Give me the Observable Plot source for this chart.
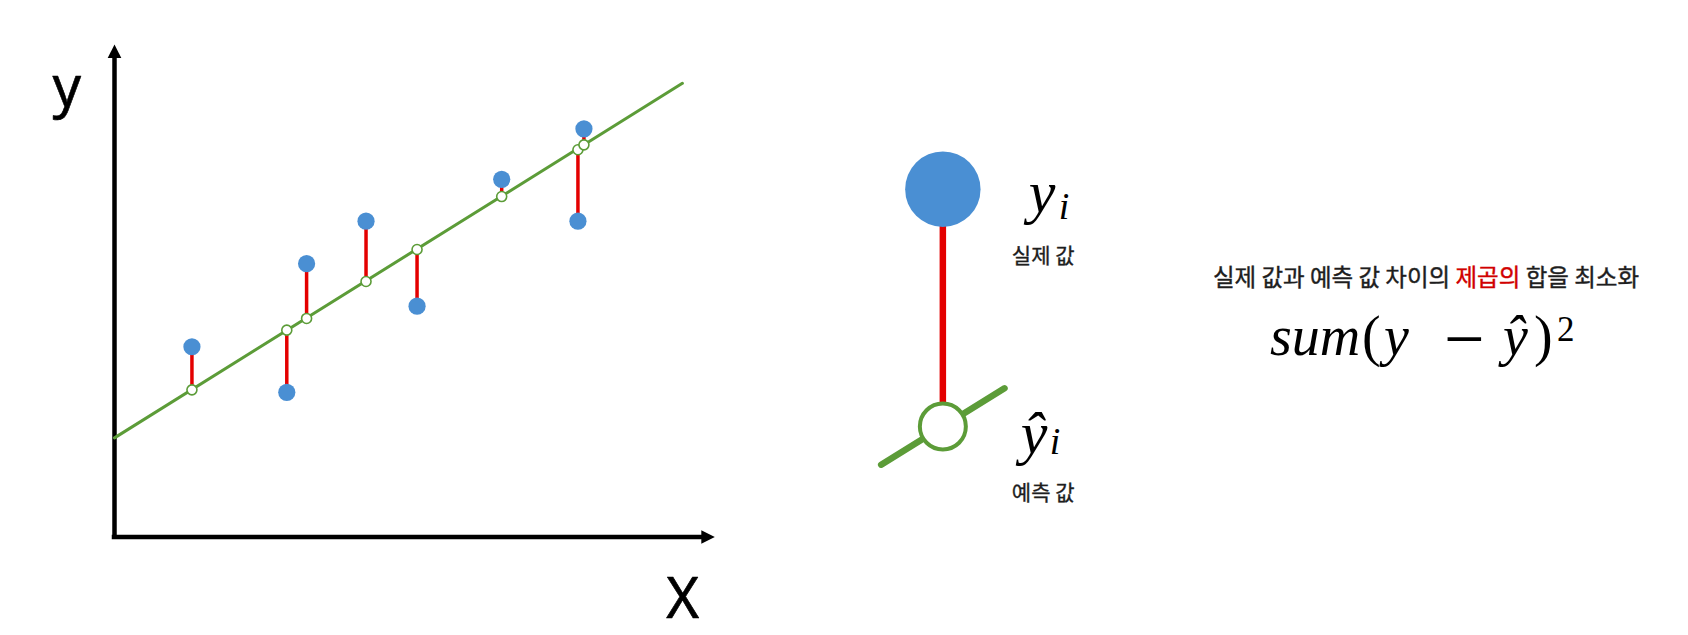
<!DOCTYPE html>
<html>
<head>
<meta charset="utf-8">
<script src="https://cdn.jsdelivr.net/npm/d3@7"></script>
<script src="https://cdn.jsdelivr.net/npm/@observablehq/plot@0.6"></script>
<style>
  body { margin: 0; background: #fff; }
  #page { position: relative; width: 1688px; height: 635px; overflow: hidden; background: #fff; }
  #main, #legend, #notes { position: absolute; }
  #main { left: 0; top: 0; }
  #legend { left: 850px; top: 120px; }
  #notes { left: 0; top: 0; pointer-events: none; }
  svg { overflow: visible; }
</style>
</head>
<body>
<div id="page">
  <div id="main"></div>
  <div id="legend"></div>
  <svg id="notes" width="1688" height="635"></svg>
</div>
<script>
// ---------- data ----------
const xs        = [1.29, 2.87, 3.20, 4.19, 5.04, 6.45, 7.72, 7.82];
const actual    = [3.09, 2.35, 4.44, 5.13, 3.75, 5.81, 5.13, 6.63];
const predicted = [2.39, 3.36, 3.55, 4.15, 4.67, 5.53, 6.29, 6.37];
const fitX = [0, 9.46];
const fitY = [1.61, 7.37];
const axisLabels = ["y", "X"];

const legendRows = [1, 0];            // 1 = actual value, 0 = predicted value
const legendSymbols = ["y", "ŷ"];
const legendSub = ["i", "i"];
const legendNames = ["실제 값", "예측 값"];
const legendLineX = [-1, 1];
const legendLineY = [-0.161, 0.161];

const sentenceParts = ["실제 값과 예측 값 차이의 ", "제곱의", " 합을 최소화"];
const formulaParts = ["sum", "(", "y", "−", "ŷ", ")", "2"];

// ---------- styles ----------
const BLUE = "#4a8fd3";
const GREEN = "#5c9c38";
const RED = "#e40000";

const points = xs.map((x, i) => ({x, actual: actual[i], predicted: predicted[i]}));
const fit = fitX.map((x, i) => ({x, y: fitY[i]}));

const arrowUp = {draw(ctx) { ctx.moveTo(0, 0); ctx.lineTo(-6.8, 13.5); ctx.lineTo(6.8, 13.5); ctx.closePath(); }};
const arrowRight = {draw(ctx) { ctx.moveTo(0, 0); ctx.lineTo(-13.5, -6.8); ctx.lineTo(-13.5, 6.8); ctx.closePath(); }};

const main = Plot.plot({
  width: 720,
  height: 635,
  marginLeft: 114,
  marginRight: 5.7,
  marginTop: 44,
  marginBottom: 98.5,
  x: {domain: [0, 10], axis: null},
  y: {domain: [0, 8], axis: null},
  style: {background: "transparent", fontFamily: "'Noto Sans', sans-serif", overflow: "visible"},
  marks: [
    Plot.ruleY([0], {x1: 0, x2: 10, insetRight: 9, stroke: "#000", strokeWidth: 4.5, strokeLinecap: "square"}),
    Plot.ruleX([0], {y1: 8, y2: 0, insetTop: 9, stroke: "#000", strokeWidth: 4.5, strokeLinecap: "square"}),
    Plot.dot([0], {x: 10, y: 0, symbol: arrowRight, fill: "#000", stroke: "none"}),
    Plot.dot([0], {x: 0, y: 8, symbol: arrowUp, fill: "#000", stroke: "none"}),
    Plot.text([axisLabels[0]], {text: d => d, frameAnchor: "top-left", textAnchor: "start", lineAnchor: "bottom",
      dx: -62, dy: 61, fontSize: 56, fill: "#000", stroke: "#000", strokeWidth: 0.6}),
    Plot.text([axisLabels[1]], {text: d => d, frameAnchor: "bottom-right", textAnchor: "start", lineAnchor: "bottom",
      dx: -48.5, dy: 81, fontSize: 56, fill: "#000", stroke: "#000", strokeWidth: 0.6}),
    Plot.line(fit, {x: "x", y: "y", stroke: GREEN, strokeWidth: 3}),
    Plot.ruleX(points, {x: "x", y1: "actual", y2: "predicted", stroke: RED, strokeWidth: 3.5}),
    Plot.dot(points, {x: "x", y: "actual", r: 8.6, fill: BLUE, stroke: "none"}),
    Plot.dot(points, {x: "x", y: "predicted", r: 5, fill: "#fff", stroke: GREEN, strokeWidth: 1.6})
  ]
});
document.getElementById("main").appendChild(main);

const legendData = legendRows.map((y, i) => ({y, sym: legendSymbols[i], sub: legendSub[i], name: legendNames[i]}));
const legendLine = legendLineX.map((x, i) => ({x, y: legendLineY[i]}));
const serif = "'Liberation Serif', 'DejaVu Serif', serif";
const kr = "'Noto Sans CJK KR', sans-serif";

const legend = Plot.plot({
  width: 250,
  height: 420,
  marginLeft: 30.7,
  marginRight: 96,
  marginTop: 68.7,
  marginBottom: 114,
  x: {domain: [-1, 1], axis: null},
  y: {domain: [0, 1], axis: null},
  style: {background: "transparent", overflow: "visible"},
  marks: [
    Plot.line(legendLine, {x: "x", y: "y", stroke: GREEN, strokeWidth: 6.5}),
    Plot.ruleX([0], {y1: legendRows[0], y2: legendRows[1], stroke: RED, strokeWidth: 6.5}),
    Plot.dot([legendData[0]], {x: 0, y: "y", r: 37.7, fill: BLUE, stroke: "none"}),
    Plot.dot([legendData[1]], {x: 0, y: "y", r: 23, fill: "#fff", stroke: GREEN, strokeWidth: 4}),
    Plot.text([legendData[0]], {x: 0, y: "y", text: "sym", textAnchor: "start", lineAnchor: "bottom",
      dx: 86, dy: 23, fontSize: 60, fontStyle: "italic", fontFamily: serif, fill: "#000"}),
    Plot.text([legendData[0]], {x: 0, y: "y", text: "sub", textAnchor: "start", lineAnchor: "bottom",
      dx: 116, dy: 30, fontSize: 38, fontStyle: "italic", fontFamily: serif, fill: "#000"}),
    Plot.text([legendData[1]], {x: 0, y: "y", text: "sym", textAnchor: "start", lineAnchor: "bottom",
      dx: 78, dy: 26, fontSize: 60, fontStyle: "italic", fontFamily: serif, fill: "#000"}),
    Plot.text([legendData[1]], {x: 0, y: "y", text: "sub", textAnchor: "start", lineAnchor: "bottom",
      dx: 107, dy: 27, fontSize: 38, fontStyle: "italic", fontFamily: serif, fill: "#000"}),
    Plot.text(legendData, {x: 0, y: "y", text: "name", textAnchor: "start", lineAnchor: "middle",
      dx: 69, dy: 67, fontSize: 21, fontFamily: kr, fill: "#1e1e1e", stroke: "#1e1e1e", strokeWidth: 0.35})
  ]
});
document.getElementById("legend").appendChild(legend);

// ---------- right-hand annotation ----------
const notes = d3.select("#notes");
const sent = notes.append("text")
  .attr("x", 1426).attr("y", 285.5)
  .attr("text-anchor", "middle")
  .attr("stroke-width", 0.4)
  .style("font-family", kr).style("font-size", "23.5px").style("white-space", "pre");
sentenceParts.forEach((p, i) => {
  const c = i === 1 ? "#d10000" : "#1e1e1e";
  sent.append("tspan").attr("fill", c).attr("stroke", c).text(p);
});

const fLayout = [
  {x: 1270, y: 355, size: 56, italic: true},
  {x: 1362, y: 355, size: 56, italic: false},
  {x: 1384, y: 355, size: 56, italic: true},
  {x: 1444, y: 363, size: 72, italic: false},
  {x: 1503, y: 355, size: 56, italic: true},
  {x: 1534, y: 355, size: 56, italic: false},
  {x: 1557, y: 341, size: 35, italic: false}
];
const ftext = notes.append("text").attr("fill", "#000").style("font-family", serif);
formulaParts.forEach((t, i) => {
  const L = fLayout[i];
  ftext.append("tspan").attr("x", L.x).attr("y", L.y)
    .style("font-size", L.size + "px")
    .style("font-style", L.italic ? "italic" : "normal").text(t);
});
</script>
</body>
</html>
